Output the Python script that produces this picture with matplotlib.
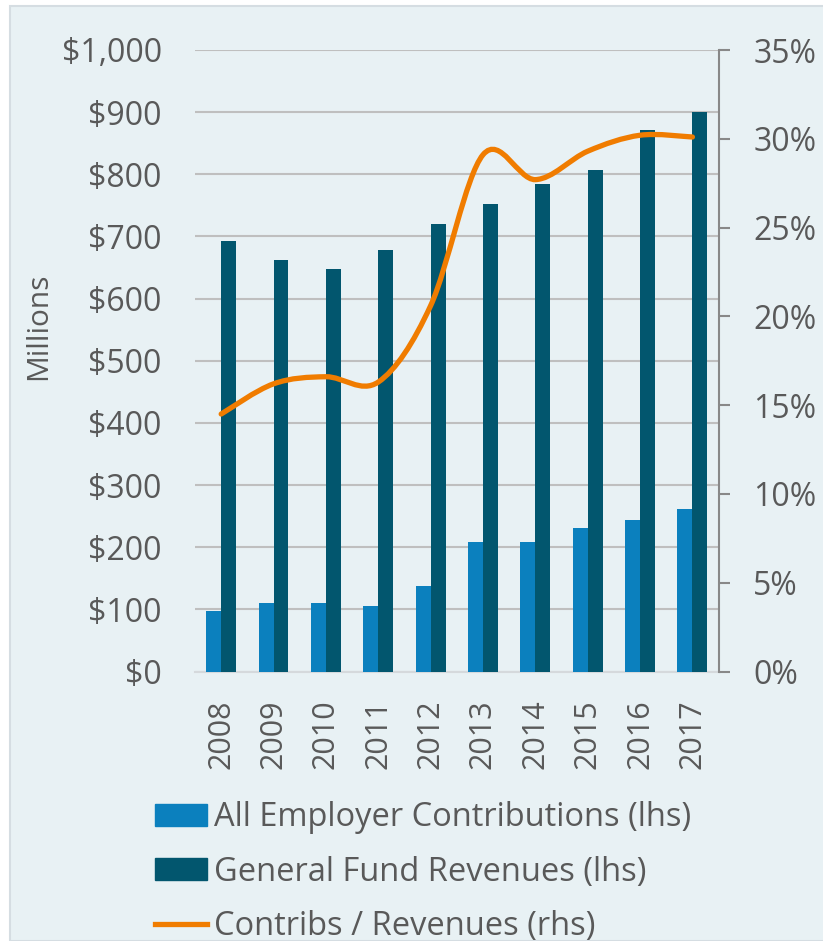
import numpy as np
import matplotlib
matplotlib.use("Agg")
import matplotlib.pyplot as plt
from matplotlib.path import Path
from matplotlib.patches import PathPatch, Rectangle
from matplotlib.lines import Line2D
from matplotlib.ticker import FuncFormatter, MultipleLocator

# data
years = ["2008", "2009", "2010", "2011", "2012", "2013", "2014", "2015", "2016", "2017"]
contribs = [97, 111, 110, 106, 137, 208, 208, 231, 244, 261]
revenues = [693, 662, 648, 679, 720, 752, 785, 807, 871, 900]
ratio = [14.5, 16.2, 16.6, 16.3, 20.6, 29.1, 27.7, 29.3, 30.2, 30.1]

light_blue = "#0b80be"
dark_teal = "#02566e"
orange = "#f07c00"
bg = "#e8f1f4"
text_col = "#595959"

plt.rcParams["font.family"] = ["Open Sans", "DejaVu Sans"]

fig = plt.figure(figsize=(8.23, 9.41), dpi=100)
fig.patch.set_facecolor("white")
# chart area panel with thin border
fig.patches.append(Rectangle((10 / 823, 0), 1, 1 - 6 / 941, transform=fig.transFigure,
                             facecolor=bg, edgecolor="#d5dde2", linewidth=1.5, zorder=-10))

ax = fig.add_axes([195 / 823, 1 - 671.5 / 941, (718.6 - 195) / 823, (671.5 - 50) / 941])
ax.set_facecolor("none")
ax2 = ax.twinx()

x = np.arange(len(years))
w = 0.285
ax.bar(x - w / 2, contribs, w, color=light_blue, zorder=3)
ax.bar(x + w / 2, revenues, w, color=dark_teal, zorder=3)

ax.set_xlim(-0.5, len(years) - 0.5)
ax.set_ylim(0, 1000)
ax.yaxis.set_major_locator(MultipleLocator(100))
ax.yaxis.set_major_formatter(FuncFormatter(lambda v, p: "${:,.0f}".format(v)))
ax.grid(axis="y", color="#bfbfbf", linewidth=1.5, zorder=0)
ax.set_axisbelow(True)
for s in ["top", "right", "left"]:
    ax.spines[s].set_visible(False)
ax.spines["bottom"].set_color("#d5d9dc")
ax.spines["bottom"].set_linewidth(1.5)
ax.tick_params(axis="y", length=0, pad=24, labelsize=23, labelcolor=text_col)
ax.set_xticks(x)
ax.set_xticklabels(years, rotation=90)
ax.tick_params(axis="x", length=0, pad=20, labelsize=22, labelcolor=text_col)
ax.set_ylabel("Millions", fontsize=21.5, color=text_col)
ax.yaxis.set_label_coords((53 - 195) / (718.6 - 195), 0.555)

# smoothed ratio line (Bezier segments through the data points)
ax2.set_ylim(0, 35)
ax2.yaxis.set_major_locator(MultipleLocator(5))
ax2.yaxis.set_major_formatter(FuncFormatter(lambda v, p: "{:.0f}%".format(v)))
ax2.tick_params(axis="y", length=8, width=1.5, color="#888888", pad=17, labelsize=23, labelcolor=text_col)
for s in ["top", "left", "bottom"]:
    ax2.spines[s].set_visible(False)
ax2.spines["right"].set_color("#888888")
ax2.spines["right"].set_linewidth(1.5)

pts = np.column_stack([x, ratio]).astype(float)
verts = [pts[0]]
codes = [Path.MOVETO]
t = 1 / 6
for i in range(len(pts) - 1):
    p0 = pts[i - 1] if i > 0 else pts[i]
    p3 = pts[i + 2] if i + 2 < len(pts) else pts[i + 1]
    c1 = pts[i] + (pts[i + 1] - p0) * t
    c2 = pts[i + 1] - (p3 - pts[i]) * t
    verts += [c1, c2, pts[i + 1]]
    codes += [Path.CURVE4] * 3
ax2.add_patch(PathPatch(Path(verts, codes), facecolor="none", edgecolor=orange,
                        linewidth=3.8, capstyle="round", zorder=4))

handles = [Rectangle((0, 0), 1, 1, color=light_blue),
           Rectangle((0, 0), 1, 1, color=dark_teal),
           Line2D([0], [0], color=orange, linewidth=3.8)]
labels = ["All Employer Contributions (lhs)", "General Fund Revenues (lhs)", "Contribs / Revenues (rhs)"]
leg = fig.legend(handles, labels, loc="center left", bbox_to_anchor=(155 / 823, 1 - 872 / 941),
                 frameon=False, borderpad=0, borderaxespad=0, handlelength=1.6, handleheight=0.65,
                 handletextpad=0.2, labelspacing=0.65, prop={"size": 23.5})
for txt in leg.get_texts():
    txt.set_color(text_col)

fig.savefig("out.png", dpi=100, facecolor=fig.get_facecolor())
